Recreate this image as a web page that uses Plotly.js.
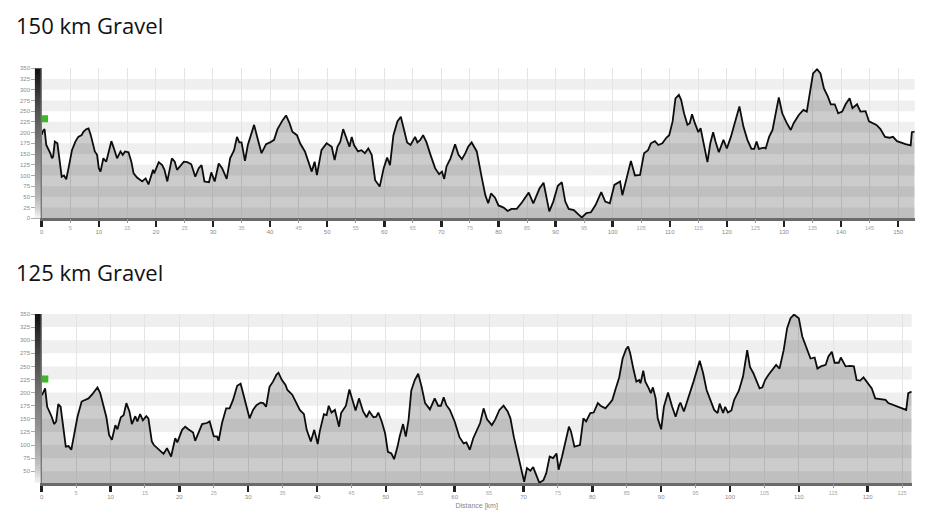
<!DOCTYPE html>
<html>
<head>
<meta charset="utf-8">
<script src="https://cdn.plot.ly/plotly-3.0.1.min.js"></script>
<style>
  html, body { margin: 0; padding: 0; background: #ffffff; }
  #chart { width: 937px; height: 514px; }
</style>
</head>
<body>
<div id="chart"></div>
<script>
// ---------- DATA ----------
const title150 = "150 km Gravel";
const title125 = "125 km Gravel";
const distanceTitle = "Distance [km]";

// 150 km route: distance (km) and elevation (m)
const km150 = [0, 0.2, 0.5, 0.8, 1.5, 1.8, 2.0, 2.3, 2.75, 3.2, 3.5, 3.9, 4.3, 4.7, 5.3, 5.9, 6.4, 7.0, 7.3, 7.8,
  8.2, 8.6, 9.3, 9.7, 10.0, 10.3, 10.8, 11.3, 11.7, 12.2, 12.6, 13.2, 13.8, 14.2, 14.6, 15.2, 15.7, 16.1, 16.7, 17.6,
  18.2, 18.7, 19.5, 19.7, 20.5, 21.1, 21.5, 22.0, 22.8, 23.3, 23.7, 24.3, 24.9, 25.5, 26.2, 26.9, 27.5, 28.0, 28.5, 29.3,
  29.7, 30.3, 31.0, 31.6, 32.4, 33.0, 33.7, 34.2, 34.6, 35.0, 35.6, 36.1, 36.6, 37.2, 37.8, 38.5, 39.3, 40.0, 40.7, 41.3,
  42.2, 42.8, 43.4, 43.9, 44.7, 45.3, 46.1, 46.7, 47.3, 47.8, 48.2, 49.0, 49.9, 50.8, 51.3, 51.8, 52.3, 52.8, 53.4, 53.9,
  54.3, 54.7, 55.4, 56.0, 56.6, 57.2, 57.8, 58.4, 59.2, 59.9, 60.5, 61.0, 61.6, 62.3, 62.9, 63.5, 64.0, 64.6, 65.4, 65.8,
  66.3, 66.8, 67.4, 68.1, 68.9, 69.6, 70.1, 70.5, 70.9, 71.6, 72.4, 73.0, 73.6, 74.2, 74.7, 75.3, 75.7, 76.2, 77.1, 77.7,
  78.2, 78.7, 79.4, 80.0, 80.9, 81.6, 82.3, 83.2, 84.1, 85.3, 86.1, 87.2, 87.9, 88.3, 88.9, 89.6, 90.4, 91.1, 91.7, 92.3,
  93.2, 94.0, 94.6, 95.4, 96.2, 97.0, 98.0, 98.7, 99.5, 100.3, 100.8, 101.3, 101.7, 102.5, 103.2, 103.9, 104.8, 105.5, 106.2, 106.7,
  107.4, 108.0, 108.7, 109.4, 109.9, 110.5, 111.0, 111.6, 112.0, 112.5, 113.1, 113.5, 113.9, 114.4, 115.0, 115.4, 116.1, 116.6, 117.1, 117.6,
  118.0, 118.6, 119.4, 120.0, 120.7, 121.5, 122.2, 122.9, 123.6, 124.3, 124.8, 125.2, 125.6, 126.5, 126.8, 127.4, 128.0, 128.5, 129.1, 129.7,
  130.5, 131.2, 131.7, 132.6, 133.4, 134.0, 134.5, 135.1, 135.8, 136.4, 137.0, 137.7, 138.2, 138.9, 139.5, 140.2, 140.8, 141.5, 142.0, 142.8,
  143.4, 144.3, 144.9, 145.5, 146.2, 146.9, 147.7, 148.5, 149.1, 149.8, 150.4, 151.3, 152.2, 152.4, 152.9];
const elev150 = [195, 203, 208, 171, 152, 140, 144, 179, 175, 132, 97, 100, 91, 117, 159, 179, 190, 194, 202, 208,
  210, 194, 156, 148, 117, 109, 140, 132, 152, 180, 165, 140, 156, 148, 156, 154, 132, 105, 95, 86,
  93, 79, 113, 105, 131, 124, 113, 86, 140, 132, 113, 122, 132, 131, 126, 97, 117, 124, 86, 84,
  107, 86, 128, 117, 92, 140, 159, 190, 177, 177, 134, 171, 194, 218, 187, 152, 173, 177, 183, 208,
  229, 240, 222, 202, 194, 174, 156, 132, 109, 132, 101, 159, 175, 167, 136, 167, 179, 208, 183, 167,
  190, 171, 156, 159, 152, 163, 148, 89, 74, 117, 142, 124, 194, 226, 237, 206, 177, 171, 190, 177,
  183, 194, 177, 148, 117, 103, 109, 92, 121, 140, 173, 148, 138, 152, 167, 177, 167, 156, 93, 54,
  35, 58, 48, 30, 25, 17, 22, 22, 37, 60, 35, 70, 83, 58, 16, 39, 76, 84, 39, 22,
  19, 9, 2, 12, 14, 31, 61, 39, 35, 78, 82, 86, 54, 97, 134, 100, 101, 152, 159, 175,
  180, 171, 175, 188, 194, 226, 280, 288, 276, 245, 218, 222, 243, 222, 201, 210, 159, 131, 175, 201,
  180, 154, 183, 163, 190, 229, 261, 214, 183, 162, 162, 179, 162, 165, 163, 190, 206, 241, 282, 245,
  222, 206, 222, 241, 253, 249, 288, 338, 348, 338, 303, 284, 266, 266, 245, 249, 266, 280, 257, 266,
  249, 250, 226, 222, 218, 208, 190, 188, 190, 180, 177, 173, 170, 201, 202];

// 125 km route: distance (km) and elevation (m)
const km125 = [0, 0.15, 0.5, 0.8, 1.45, 1.8, 2.1, 2.4, 2.75, 3.15, 3.5, 3.9, 4.3, 4.7, 5.2, 5.8, 6.3, 6.8, 7.3, 7.8,
  8.1, 8.5, 9.0, 9.4, 9.8, 10.2, 10.7, 11.0, 11.5, 11.9, 12.3, 12.75, 13.1, 13.6, 13.9, 14.3, 14.7, 15.2, 15.5, 16.0,
  16.3, 17.0, 17.7, 18.2, 18.4, 18.8, 19.4, 19.7, 20.4, 20.85, 21.3, 22.0, 22.3, 22.8, 23.3, 24.0, 24.4, 25.0, 25.5, 25.7,
  26.2, 26.8, 27.3, 27.8, 28.4, 28.9, 29.6, 30.2, 30.7, 31.2, 31.8, 32.2, 32.6, 33.1, 33.6, 34.1, 34.4, 34.9, 35.4, 35.7,
  36.4, 37.0, 37.5, 38.1, 38.5, 39.1, 39.6, 40.1, 40.4, 41.0, 41.4, 41.7, 42.1, 42.6, 43.2, 43.5, 44.2, 44.7, 45.1, 45.6,
  46.1, 46.7, 47.2, 47.6, 48.2, 48.6, 48.9, 49.4, 49.9, 50.3, 50.8, 51.2, 51.7, 52.0, 52.5, 52.9, 53.3, 53.7, 54.2, 54.7,
  55.2, 55.7, 56.4, 57.1, 57.6, 58.0, 58.4, 58.8, 59.3, 60.0, 60.7, 61.3, 61.7, 62.2, 62.7, 63.2, 63.7, 64.2, 64.7, 65.4,
  65.9, 66.5, 67.1, 67.7, 68.1, 68.6, 69.1, 69.6, 70.1, 70.5, 71.0, 71.4, 71.8, 72.3, 72.9, 73.3, 73.8, 74.3, 74.8, 75.1,
  75.6, 75.9, 76.6, 76.9, 77.4, 78.2, 78.7, 79.1, 79.7, 80.2, 80.8, 81.2, 81.9, 82.6, 82.9, 83.4, 83.9, 84.4, 84.9, 85.2,
  85.5, 86.0, 86.4, 86.8, 87.0, 87.4, 87.7, 88.2, 88.5, 88.8, 89.2, 89.5, 90.0, 90.4, 91.0, 91.6, 92.1, 92.6, 92.8, 93.3,
  94.0, 94.7, 95.6, 96.1, 96.6, 97.2, 97.7, 98.2, 98.5, 99.0, 99.3, 99.7, 100.2, 100.6, 101.3, 101.9, 102.5, 102.9, 103.4, 103.9,
  104.3, 104.7, 105.1, 105.6, 106.1, 106.7, 107.2, 107.8, 108.3, 108.8, 109.3, 110.0, 110.5, 111.0, 111.4, 111.7, 112.3, 112.7, 113.2, 113.9,
  114.3, 114.8, 115.2, 115.8, 116.1, 116.8, 117.5, 118.0, 118.4, 118.9, 119.4, 120.0, 120.6, 121.1, 121.8, 122.6, 123.0, 123.8, 124.5, 125.1,
  125.6, 125.9, 126.4];
const elev125 = [195, 198, 208, 173, 154, 140, 145, 178, 173, 129, 97, 98, 91, 119, 154, 183, 186, 189, 196, 206,
  210, 199, 173, 153, 119, 110, 138, 130, 153, 157, 180, 164, 140, 155, 145, 159, 147, 155, 151, 107,
  100, 91, 83, 94, 88, 78, 113, 105, 129, 135, 130, 124, 108, 126, 140, 142, 145, 117, 116, 108,
  142, 170, 170, 186, 213, 217, 180, 151, 167, 176, 181, 180, 173, 211, 221, 234, 238, 224, 215, 205,
  196, 180, 167, 159, 129, 107, 129, 102, 126, 159, 157, 175, 162, 167, 135, 161, 175, 206, 189, 166,
  189, 164, 153, 164, 153, 154, 162, 145, 122, 87, 84, 73, 97, 116, 140, 116, 148, 204, 224, 236,
  211, 180, 168, 189, 175, 175, 191, 176, 167, 145, 115, 103, 105, 91, 113, 126, 142, 170, 149, 138,
  149, 167, 175, 164, 151, 115, 87, 56, 30, 56, 51, 58, 46, 28, 33, 46, 78, 75, 84, 53,
  78, 97, 135, 126, 97, 100, 151, 145, 161, 162, 180, 175, 170, 181, 186, 208, 229, 265, 283, 288,
  275, 243, 221, 224, 218, 242, 221, 208, 199, 210, 189, 151, 130, 173, 200, 173, 154, 176, 181, 164,
  192, 221, 261, 237, 205, 186, 167, 161, 179, 161, 173, 162, 166, 186, 204, 231, 281, 249, 237, 221,
  208, 210, 224, 234, 243, 253, 246, 281, 323, 342, 349, 342, 307, 291, 278, 265, 267, 246, 250, 253,
  269, 278, 257, 257, 267, 250, 251, 250, 224, 223, 229, 218, 208, 189, 187, 186, 180, 176, 172, 170,
  167, 199, 202];

// start flags (km, elevation)
const start150 = { km: [0.5], elev: [232] };
const start125 = { km: [0.45], elev: [226] };

// axis settings
const range150 = [0, 152.9], yRange150 = [0, 350];
const range125 = [0, 126.4], yRange125 = [27, 350];

// ---------- HELPERS ----------
function steps(a, b, s) { const out = []; for (let v = a; v <= b + 1e-9; v += s) out.push(Math.round(v * 100) / 100); return out; }
const W = 937, H = 514;
const px = v => v / W;
const py = v => 1 - v / H;

// gray ramp for the elevation scale strip (0 = bottom of axis, 1 = top)
const grayRamp = [[0, 'rgb(245,245,245)'], [0.07, 'rgb(208,208,208)'], [0.15, 'rgb(182,182,182)'], [0.3, 'rgb(152,152,152)'],
  [0.5, 'rgb(120,120,120)'], [0.75, 'rgb(74,74,74)'], [0.9, 'rgb(40,40,40)'], [1, 'rgb(17,17,17)']];

// elevation scale strip drawn as a one-column heatmap on its own hidden axes
function scaleStripTrace(yr, xa, ya) {
  const n = 70, span = yr[1] - yr[0], ys = [], zs = [];
  for (let i = 0; i < n; i++) { const v = yr[0] + span * (i + 0.5) / n; ys.push(v); zs.push([v]); }
  return { type: 'heatmap', x: [0], y: ys, z: zs, xaxis: xa, yaxis: ya, zmin: yr[0], zmax: yr[1],
    colorscale: grayRamp, showscale: false, hoverinfo: 'skip', zsmooth: false };
}

function profileTrace(km, el, xa, ya) {
  return {
    x: km, y: el, xaxis: xa, yaxis: ya, type: 'scatter', mode: 'lines',
    line: { color: '#0d0d0d', width: 1.8, shape: 'linear' },
    fill: 'tozeroy', fillcolor: 'rgba(0,0,0,0.2)',
    hoverinfo: 'x+y', showlegend: false
  };
}
function ghostTrace(km, el, xa, ya) {
  return { x: km, y: el, xaxis: xa, yaxis: ya, type: 'scatter', mode: 'lines', line: { width: 0, color: 'rgba(0,0,0,0)' }, hoverinfo: 'skip', showlegend: false };
}
function startTrace(s, xa, ya) {
  return { x: s.km, y: s.elev, xaxis: xa, yaxis: ya, type: 'scatter', mode: 'markers',
    marker: { symbol: 'square', size: 7, color: '#3fb52a', line: { width: 0 } }, hoverinfo: 'skip', showlegend: false };
}

const data = [
  profileTrace(km150, elev150, 'x', 'y'),
  ghostTrace(km150, elev150, 'x3', 'y'),
  startTrace(start150, 'x', 'y'),
  profileTrace(km125, elev125, 'x2', 'y2'),
  ghostTrace(km125, elev125, 'x4', 'y2'),
  startTrace(start125, 'x2', 'y2'),
  scaleStripTrace(yRange150, 'x5', 'y5'),
  scaleStripTrace(yRange125, 'x6', 'y6')
];

// horizontal 25 m bands
function bands(yref, lo, hi, grayStart) {
  const out = [];
  for (let v = grayStart; v < hi; v += 50) {
    out.push({ type: 'rect', xref: yref === 'y' ? 'x domain' : 'x2 domain', x0: 0, x1: 1, yref: yref,
      y0: Math.max(v, lo), y1: Math.min(v + 25, hi), fillcolor: '#efefef', line: { width: 0 }, layer: 'below' });
  }
  return out;
}
const shapes = [].concat(bands('y', 0, 350, 0), bands('y2', 27, 350, 25));

const tickFontMajor = { family: 'Liberation Sans, Arial, sans-serif', size: 6, color: '#8a8a8a' };
const tickFontMinor = { family: 'Liberation Sans, Arial, sans-serif', size: 5.5, color: '#a5a5a5' };

function majorX(domain, anchor, range, maxKm) {
  return { domain: domain, anchor: anchor, range: range, tickmode: 'array', tickvals: steps(0, maxKm, 10),
    ticks: 'outside', ticklen: 6, tickwidth: 2.5, tickcolor: '#222222', tickfont: tickFontMajor,
    showline: true, linecolor: '#6a6a6a', linewidth: 2.5, showgrid: true, gridcolor: '#e4e4e4', gridwidth: 1,
    zeroline: false, fixedrange: true };
}
function minorX(over, anchor, range, maxKm) {
  return { overlaying: over, anchor: anchor, matches: over, range: range, tickmode: 'array', tickvals: steps(5, maxKm, 10),
    ticks: 'outside', ticklen: 4, tickwidth: 1, tickcolor: '#999999', tickfont: tickFontMinor,
    showline: false, showgrid: true, gridcolor: '#e4e4e4', gridwidth: 1, zeroline: false, fixedrange: true, side: 'bottom' };
}
function yAx(domain, anchor, range, tv) {
  return { domain: domain, anchor: anchor, range: range, tickmode: 'array', tickvals: tv,
    ticks: 'outside', ticklen: 9, tickwidth: 1, tickcolor: '#aaaaaa', tickfont: tickFontMajor,
    showline: true, linecolor: '#777777', linewidth: 1.5, showgrid: false, zeroline: false, fixedrange: true };
}
function hiddenAx(domain, anchor, range) {
  const ax = { domain: domain, anchor: anchor, visible: false, showgrid: false, zeroline: false, fixedrange: true };
  if (range) ax.range = range;
  return ax;
}

const layout = {
  width: W, height: H, margin: { l: 0, r: 0, t: 0, b: 0, pad: 0 },
  paper_bgcolor: '#ffffff', plot_bgcolor: 'rgba(0,0,0,0)', showlegend: false,
  xaxis: majorX([px(41.7), px(914.7)], 'y', range150, 150),
  xaxis3: minorX('x', 'y', range150, 150),
  yaxis: yAx([py(218.3), py(68.3)], 'x', yRange150, steps(0, 350, 25)),
  xaxis2: Object.assign(majorX([px(41.7), px(911.7)], 'y2', range125, 120),
    { title: { text: distanceTitle, font: { family: 'Liberation Sans, Arial, sans-serif', size: 7, color: '#888888' }, standoff: 4 } }),
  xaxis4: minorX('x2', 'y2', range125, 125),
  yaxis2: yAx([py(483.3), py(314)], 'x2', yRange125, steps(50, 350, 25)),
  xaxis5: hiddenAx([px(34.7), px(40.9)], 'y5', [-0.5, 0.5]),
  yaxis5: hiddenAx([py(218.3), py(68.3)], 'x5', yRange150),
  xaxis6: hiddenAx([px(34.7), px(40.9)], 'y6', [-0.5, 0.5]),
  yaxis6: hiddenAx([py(483.3), py(314)], 'x6', yRange125),
  shapes: shapes,
  annotations: [
    { text: title150, xref: 'paper', yref: 'paper', x: px(14), y: py(25), xanchor: 'left', yanchor: 'middle',
      showarrow: false, font: { family: 'Open Sans, sans-serif', size: 22, color: '#111111' } },
    { text: title125, xref: 'paper', yref: 'paper', x: px(14), y: py(272), xanchor: 'left', yanchor: 'middle',
      showarrow: false, font: { family: 'Open Sans, sans-serif', size: 22, color: '#111111' } }
  ]
};

Plotly.newPlot('chart', data, layout, { staticPlot: true, displayModeBar: false });
</script>
</body>
</html>
